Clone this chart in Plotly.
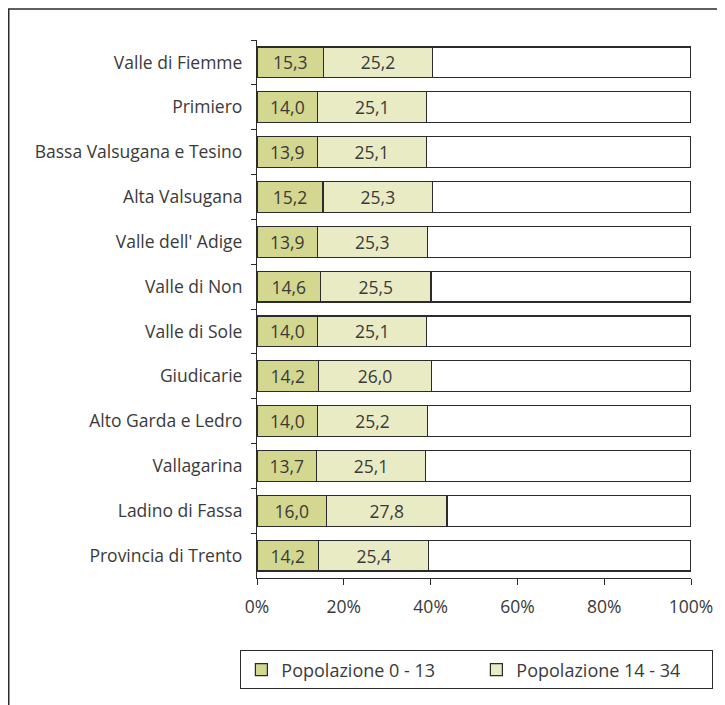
import plotly.graph_objects as go

categories = ["Valle di Fiemme", "Primiero", "Bassa Valsugana e Tesino", "Alta Valsugana",
              "Valle dell' Adige", "Valle di Non", "Valle di Sole", "Giudicarie",
              "Alto Garda e Ledro", "Vallagarina", "Ladino di Fassa", "Provincia di Trento"]
pop_0_13 = [15.3, 14.0, 13.9, 15.2, 13.9, 14.6, 14.0, 14.2, 14.0, 13.7, 16.0, 14.2]
pop_14_34 = [25.2, 25.1, 25.1, 25.3, 25.3, 25.5, 25.1, 26.0, 25.2, 25.1, 27.8, 25.4]
rest = [round(100 - a - b, 1) for a, b in zip(pop_0_13, pop_14_34)]
x_ticks = [0, 20, 40, 60, 80, 100]
x_tick_labels = ["0%", "20%", "40%", "60%", "80%", "100%"]

FONT = "Open Sans"
TXT = "#3a3a3a"
OUT = "#2b2b2b"

fig = go.Figure()
fig.add_trace(go.Bar(
    y=categories, x=pop_0_13, orientation="h", name="Popolazione 0 - 13",
    marker=dict(color="#d4d78f", line=dict(color=OUT, width=1.2)),
    texttemplate="%{x:.1f}", textposition="inside", insidetextanchor="middle",
    textfont=dict(family=FONT, size=17.5, color=TXT), hoverinfo="skip"))
fig.add_trace(go.Bar(
    y=categories, x=pop_14_34, orientation="h", name="Popolazione 14 - 34",
    marker=dict(color="#e9ebc4", line=dict(color=OUT, width=1.2)),
    texttemplate="%{x:.1f}", textposition="inside", insidetextanchor="middle",
    textfont=dict(family=FONT, size=17.5, color=TXT), hoverinfo="skip"))
fig.add_trace(go.Bar(
    y=categories, x=rest, orientation="h", name="Altro", showlegend=False,
    marker=dict(color="#ffffff", line=dict(color=OUT, width=1.2)),
    hoverinfo="skip"))

fig.update_layout(
    barmode="stack", bargap=0.31,
    width=717, height=697,
    margin=dict(l=249, r=34, t=32, b=127),
    paper_bgcolor="white", plot_bgcolor="white",
    separators=",.",
    font=dict(family=FONT, size=17.5, color=TXT),
    uniformtext=dict(mode=False),
    legend=dict(orientation="h", x=-0.039, xanchor="left", y=-0.134, yanchor="top",
                bordercolor=OUT, borderwidth=1.3, entrywidth=190, entrywidthmode="pixels",
                font=dict(family=FONT, size=18, color=TXT), itemwidth=30,
                traceorder="normal"),
    showlegend=True,
)
fig.update_xaxes(range=[0, 100], tickvals=x_ticks, ticktext=x_tick_labels,
                 showline=True, linecolor=OUT, linewidth=1.2, ticks="outside",
                 ticklen=6, tickcolor=OUT, showgrid=False, zeroline=False,
                 tickfont=dict(family=FONT, size=17.5, color=TXT), fixedrange=True,
                 ticklabelstandoff=7)
fig.update_yaxes(autorange="reversed", showline=True, linecolor=OUT, linewidth=1.2,
                 ticks="outside", tickson="boundaries", ticklen=5, tickcolor=OUT,
                 showgrid=False, tickfont=dict(family=FONT, size=17.5, color=TXT),
                 ticklabelstandoff=10, fixedrange=True)

fig.add_shape(type="rect", xref="paper", yref="paper",
              x0=-0.572, y0=-0.26, x1=1.1, y1=1.0576,
              line=dict(color=OUT, width=1.5), fillcolor="rgba(0,0,0,0)", layer="below")

fig.write_html("out.html")
